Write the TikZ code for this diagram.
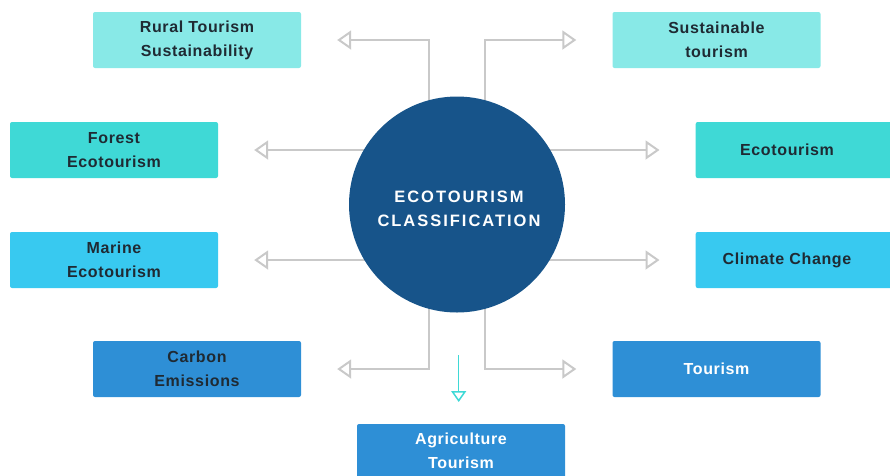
\documentclass[tikz,border=0pt]{standalone}
\usepackage{fontspec}
\setmainfont{Liberation Sans}
\usetikzlibrary{arrows.meta,backgrounds}

\definecolor{boxA}{HTML}{88E9E7}
\definecolor{boxB}{HTML}{3FD9D6}
\definecolor{boxC}{HTML}{38C9F0}
\definecolor{boxD}{HTML}{2E8FD6}
\definecolor{hub}{HTML}{17548A}
\definecolor{link}{HTML}{C9C9C9}
\definecolor{ink}{HTML}{1F2A33}
\definecolor{drop}{HTML}{3FD9D6}

\newcommand{\boxfont}{\fontsize{16}{24}\selectfont\bfseries\addfontfeature{LetterSpace=4}}
\newcommand{\hubfont}{\fontsize{16.5}{24}\selectfont\bfseries\addfontfeature{LetterSpace=12}}

\tikzset{
  topic/.style={rectangle, rounded corners=2pt, minimum width=208pt, minimum height=56pt,
    inner sep=0pt, align=center, font=\boxfont, text=ink},
  label/.style={font=\boxfont, text=ink, inner sep=0pt},
  linkline/.style={draw=link, line width=2pt,
    -{Triangle[open, length=14pt, width=19pt, line width=2pt]}},
  droparrow/.style={draw=drop, line width=1.5pt,
    -{Triangle[open, length=11pt, width=15pt, line width=1.5pt]}},
}

\begin{document}
\begin{tikzpicture}[x=1pt, y=-1pt]
  \useasboundingbox (0,0) rectangle (890,475);
  \clip (0,0) rectangle (890,475);

  % central hub
  \node[circle, fill=hub, minimum size=216pt, inner sep=0pt] (hubnode) at (457,204.5) {};
  \node[text=white, align=center, font=\hubfont, inner sep=0pt] (hubtext) at (459,209)
        {ECOTOURISM\\CLASSIFICATION};

  % topic boxes
  \node[topic, fill=boxA] (rural)   at (197,40)  {};
  \node[label, align=center] (ruraltext) at (197,40) {Rural Tourism\\Sustainability};
  \node[topic, fill=boxA] (sust)    at (716.5,40) {};
  \node[label, align=center] (susttext) at (716.5,40) {Sustainable\\tourism};
  \node[topic, fill=boxB] (forest)  at (114,150) {};
  \node[label, align=center] (foresttext) at (114,150) {Forest\\Ecotourism};
  \node[topic, fill=boxB, minimum width=210pt] (eco) at (800.7,150) {};
  \node[label] (ecotext) at (787,150) {Ecotourism};
  \node[topic, fill=boxC] (marine)  at (114,260) {};
  \node[label, align=center] (marinetext) at (114,260) {Marine\\Ecotourism};
  \node[topic, fill=boxC, minimum width=210pt] (climate) at (800.7,260) {};
  \node[label] (climtext) at (787,260) {Climate Change};
  \node[topic, fill=boxD] (carbon)  at (197,369) {};
  \node[label, align=center] (carbontext) at (197,369) {Carbon\\Emissions};
  \node[topic, fill=boxD] (tour) at (716.5,369) {};
  \node[label, text=white] (tourtext) at (716.5,369) {Tourism};
  \node[topic, fill=boxD, minimum height=58pt] (agri) at (461,453) {};
  \node[label, align=center, text=white] (agritext) at (461,451) {Agriculture\\Tourism};

  \coordinate (dropstart) at (458.7,355);

  % connectors behind the hub
  \begin{scope}[on background layer]
    \draw[linkline] ([xshift=-27.7pt]hubnode.center) |- ([xshift=36pt]rural.east);
    \draw[linkline] ([xshift=28pt]hubnode.center) |- ([xshift=-36pt]sust.west);
    \draw[linkline] (hubnode.center |- forest.east) -- ([xshift=36pt]forest.east);
    \draw[linkline] (hubnode.center |- marine.east) -- ([xshift=36pt]marine.east);
    \draw[linkline] (hubnode.center |- eco.west) -- ([xshift=-36pt]eco.west);
    \draw[linkline] (hubnode.center |- climate.west) -- ([xshift=-36pt]climate.west);
    \draw[linkline] ([xshift=-27.7pt]hubnode.center) |- ([xshift=36pt]carbon.east);
    \draw[linkline] ([xshift=28pt]hubnode.center) |- ([xshift=-36pt]tour.west);
  \end{scope}

  \draw[droparrow] (dropstart) -- (dropstart |- 0,402);
\end{tikzpicture}
\end{document}
